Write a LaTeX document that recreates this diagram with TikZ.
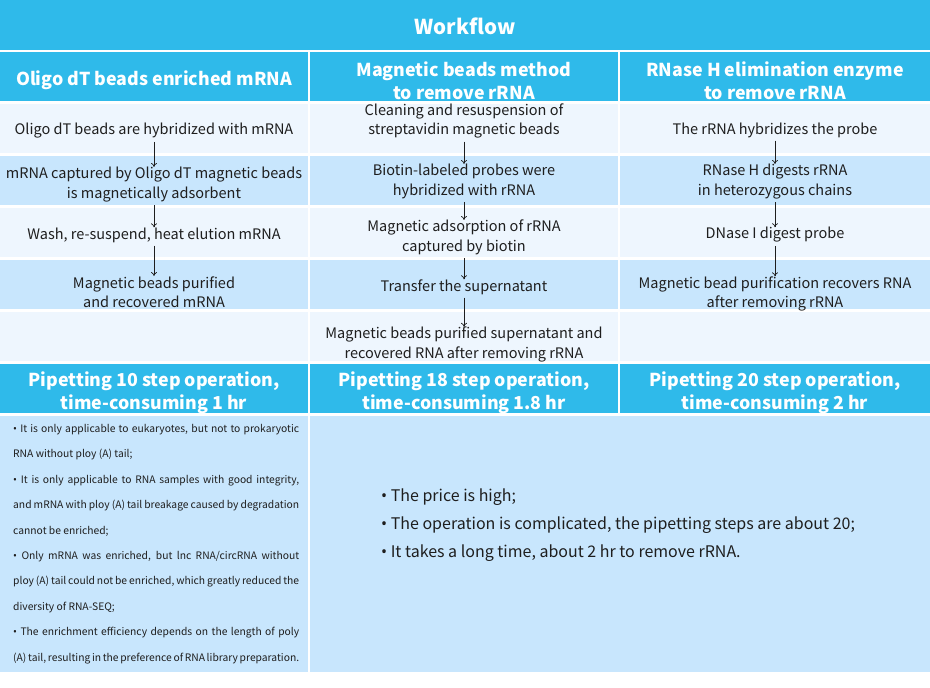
\documentclass[tikz,border=0pt]{standalone}
\usepackage{fontspec}
\setmainfont{Noto Sans CJK SC}
\newfontfamily\bulfont{Noto Sans}
\newcommand{\blt}{{\bulfont •}}
\usetikzlibrary{arrows.meta}
\definecolor{cyanh}{HTML}{2FBAEA}
\definecolor{lightrow}{HTML}{EEF6FE}
\definecolor{bluerow}{HTML}{C8E6FD}
\definecolor{txt}{HTML}{1E1E1E}
\begin{document}
\begin{tikzpicture}[x=1pt,y=-1pt,
  stepnode/.style={inner sep=0pt, align=center, text=txt, font=\fontsize{14.5}{19.5}\selectfont},
  headnode/.style={inner sep=0pt, align=center, text=white, font=\fontsize{17.8}{23}\selectfont\bfseries},
  arr/.style={-{To[length=4pt,width=6pt]}, draw=txt, line width=0.7pt, shorten <=3pt}
]
\useasboundingbox (0,0) rectangle (930,688);
\fill[white] (0,0) rectangle (930,688);
% title
\fill[cyanh] (0,0) rectangle (930,50);
% rows
\foreach \yy/\cc in {52/cyanh,104/lightrow,156/bluerow,208/lightrow,260/bluerow,312/lightrow,364/cyanh}{
  \fill[\cc] (0,\yy) rectangle (308,\yy+49);
  \fill[\cc] (310,\yy) rectangle (618,\yy+49);
  \fill[\cc] (620,\yy) rectangle (930,\yy+49);
}
\fill[bluerow] (0,416) rectangle (308,672);
\fill[bluerow] (310,416) rectangle (930,672);

\node[headnode, font=\fontsize{20.5}{24}\selectfont\bfseries] (title) at (465,26) {Workflow};
\node[headnode] (h1) at (154,80) {Oligo dT beads enriched mRNA};
\node[headnode] (h2) at (464,81) {Magnetic beads method\\to remove rRNA};
\node[headnode] (h3) at (775,81) {RNase H elimination enzyme\\to remove rRNA};

% column 1
\node[stepnode] (a1) at (154,131) {Oligo dT beads are hybridized with mRNA};
\node[stepnode] (a2) at (154,184.5) {mRNA captured by Oligo dT magnetic beads\\is magnetically adsorbent};
\node[stepnode] (a3) at (154,235) {Wash, re-suspend, heat elution mRNA};
\node[stepnode] (a4) at (154,292) {Magnetic beads purified\\and recovered mRNA};
% column 2
\node[stepnode] (b1) at (464,121) {Cleaning and resuspension of\\streptavidin magnetic beads};
\node[stepnode] (b2) at (464,181.5) {Biotin-labeled probes were\\hybridized with rRNA};
\node[stepnode] (b3) at (464,237.5) {Magnetic adsorption of rRNA\\captured by biotin};
\node[stepnode] (b4) at (464,287) {Transfer the supernatant};
\node[stepnode] (b5) at (464,344.5) {Magnetic beads purified supernatant and\\recovered RNA after removing rRNA};
% column 3
\node[stepnode] (c1) at (775,130) {The rRNA hybridizes the probe};
\node[stepnode] (c2) at (775,181.5) {RNase H digests rRNA\\in heterozygous chains};
\node[stepnode] (c3) at (775,235) {DNase I digest probe};
\node[stepnode] (c4) at (775,294) {Magnetic bead purification recovers RNA\\after removing rRNA};

\draw[arr] (a1) -- (a2);
\draw[arr] (a2) -- (a3);
\draw[arr] (a3) -- (a4);
\draw[arr] (b1) -- (b2);
\draw[arr] (b2) -- (b3);
\draw[arr] (b3) -- (b4);
\draw[arr] (b4) -- (b5);
\draw[arr] (c1) -- (c2);
\draw[arr] (c2) -- (c3);
\draw[arr] (c3) -- (c4);

% pipetting row
\node[headnode] (p1) at (154,393) {Pipetting 10 step operation,\\time-consuming 1 hr};
\node[headnode] (p2) at (464,393) {Pipetting 18 step operation,\\time-consuming 1.8 hr};
\node[headnode] (p3) at (775,393) {Pipetting 20 step operation,\\time-consuming 2 hr};

% bottom left
\node[inner sep=0pt, anchor=north west, text width=286pt, align=justify, text=txt,
      font=\fontsize{10.3}{25.4}\selectfont] (left) at (13,424) {%
\blt{} It is only applicable to eukaryotes, but not to prokaryotic\linebreak RNA without ploy (A) tail;\par
\blt{} It is only applicable to RNA samples with good integrity,\linebreak and mRNA with ploy (A) tail breakage caused by degradation\linebreak cannot be enriched;\par
\blt{} Only mRNA was enriched, but lnc RNA/circRNA without\linebreak ploy (A) tail could not be enriched, which greatly reduced the\linebreak diversity of RNA-SEQ;\par
\blt{} The enrichment efficiency depends on the length of poly\linebreak (A) tail, resulting in the preference of RNA library preparation.};

% bottom right
\node[inner sep=0pt, anchor=west, align=left, text=txt,
      font=\fontsize{16}{27.8}\selectfont] (right) at (381,525) {%
\blt{} The price is high;\\
\blt{} The operation is complicated, the pipetting steps are about 20;\\
\blt{} It takes a long time, about 2 hr to remove rRNA.};
\end{tikzpicture}
\end{document}
